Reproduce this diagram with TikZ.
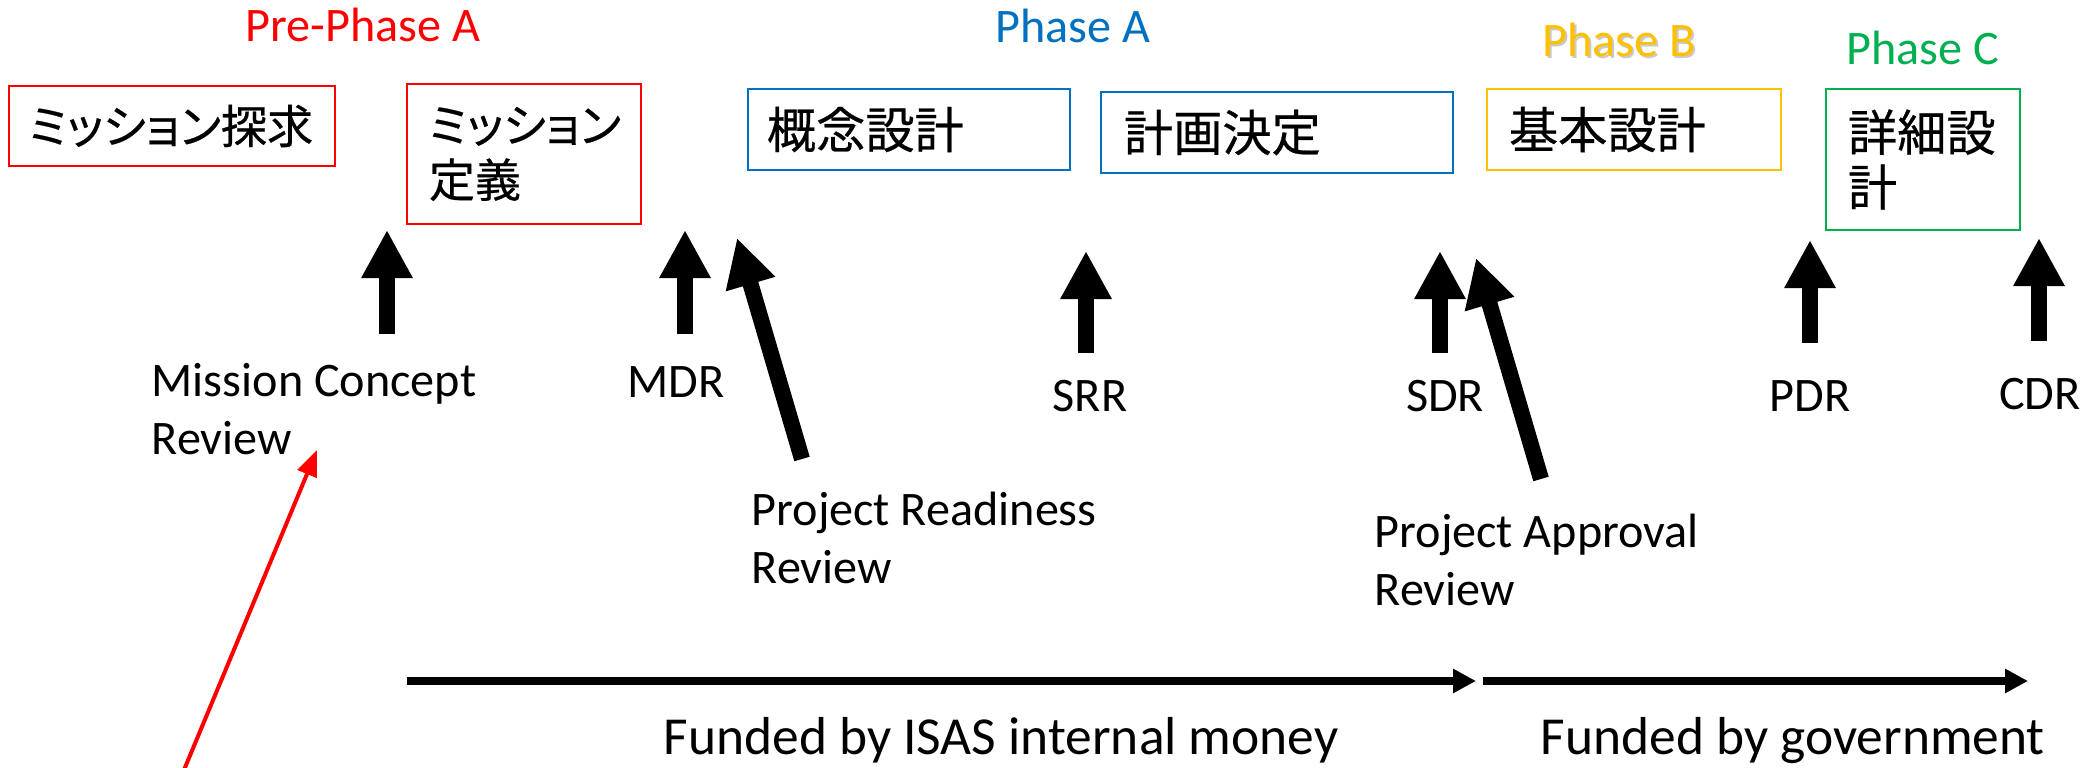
\documentclass[tikz,border=0pt]{standalone}
\usepackage{fontspec}
\setmainfont{Carlito}
\newfontfamily\jp[FakeBold=0.5]{Noto Sans CJK JP}
\newfontfamily\jpp[RawFeature=+palt,FakeBold=0.5]{Noto Sans CJK JP}
\usetikzlibrary{arrows.meta}
\definecolor{pRed}{HTML}{FF0000}
\definecolor{pBlue}{HTML}{0070C0}
\definecolor{pOrange}{HTML}{FFC000}
\definecolor{pGreen}{HTML}{00B050}
\begin{document}
\begin{tikzpicture}[x=0.01cm,y=-0.01cm,
  phase/.style={anchor=base, inner sep=0, font=\fontsize{13.7}{16}\selectfont},
  box/.style={draw, line width=0.6pt, anchor=center, align=left, inner ysep=0,
    font=\jp\fontsize{14}{15.6}\selectfont},
  kana/.style={font=\jpp\fontsize{13.1}{15.6}\selectfont},
  lbl/.style={inner sep=0, align=left, font=\fontsize{13.7}{16.6}\selectfont},
  fundlbl/.style={inner sep=0, anchor=base west, font=\fontsize{15.2}{18}\selectfont},
  blk/.style={line width=0.16cm, -{Triangle[length=0.48cm,width=0.48cm]}},
  fund/.style={line width=0.08cm, -{Triangle[length=0.23cm,width=0.23cm]}},
  redarr/.style={pRed, line width=0.04cm, -{Triangle[length=0.26cm,width=0.2cm]}}]
\useasboundingbox (0,0) rectangle (2085,768);

% phase titles
\node[phase, text=pRed] (ph0) at (363,42) {Pre-Phase A};
\node[phase, text=pBlue] (ph1) at (1073,43) {Phase A};
\node[phase, text=black!35, opacity=0.6] (ph2s) at (1621,59) {Phase B};
\node[phase, text=pOrange] (ph2) at (1619,57) {Phase B};
\node[phase, text=pGreen] (ph3) at (1923,65) {Phase C};

% boxes
\node[box, kana, draw=pRed, minimum width=3.26cm, minimum height=0.8cm, text width=2.86cm, inner xsep=0.2cm] (b1) at (172,126) {ミッション探求};
\node[box, kana, draw=pRed, minimum width=2.34cm, minimum height=1.4cm, text width=1.90cm, inner xsep=0.22cm] (b2) at (524,154) {ミッション\\定義};
\node[box, draw=pBlue, minimum width=3.22cm, minimum height=0.81cm, text width=2.84cm, inner xsep=0.19cm] (b3) at (909,129.5) {概念設計};
\node[box, draw=pBlue, minimum width=3.52cm, minimum height=0.81cm, text width=3.06cm, inner xsep=0.23cm] (b4) at (1277,132.5) {計画決定};
\node[box, draw=pOrange, minimum width=2.94cm, minimum height=0.81cm, text width=2.50cm, inner xsep=0.22cm] (b5) at (1634,129.5) {基本設計};
\node[box, draw=pGreen, minimum width=1.94cm, minimum height=1.41cm, text width=1.50cm, inner xsep=0.22cm] (b6) at (1923,159.5) {詳細設\\計};

% review labels (base anchor = last line)
\node[lbl, anchor=base west] (mcr) at (151,455) {Mission Concept\\Review};
\node[lbl, anchor=base] (mdr) at (676,398) {MDR};
\node[lbl, anchor=base west] (prr) at (751,583.5) {Project Readiness\\Review};
\node[lbl, anchor=base] (srr) at (1090,412) {SRR};
\node[lbl, anchor=base] (sdr) at (1445,412) {SDR};
\node[lbl, anchor=base west] (par) at (1374,606) {Project Approval\\Review};
\node[lbl, anchor=base] (pdr) at (1810,412) {PDR};
\node[lbl, anchor=base] (cdr) at (2040,410) {CDR};

\node[fundlbl] (fisas) at (663,755) {Funded by ISAS internal money};
\node[fundlbl] (fgov) at (1540,755) {Funded by government};

% arrow end points
\coordinate (a1s) at (387,334); \coordinate (a1e) at (387,230);
\coordinate (a2s) at (685,334); \coordinate (a2e) at (685,230);
\coordinate (a3s) at (802,459); \coordinate (a3e) at (737,238);
\coordinate (a4s) at (1086,353); \coordinate (a4e) at (1086,251);
\coordinate (a5s) at (1440,353); \coordinate (a5e) at (1440,251);
\coordinate (a6s) at (1541,479); \coordinate (a6e) at (1476,258);
\coordinate (a7s) at (1810,343); \coordinate (a7e) at (1810,240);
\coordinate (a8s) at (2039,341); \coordinate (a8e) at (2039,238);
\coordinate (f1s) at (407,681); \coordinate (f1e) at (1476,681);
\coordinate (f2s) at (1483,681); \coordinate (f2e) at (2028,681);
\coordinate (rs) at (184,770); \coordinate (re) at (317,450);

\draw[blk] (a1s) -- (a1e);
\draw[blk] (a2s) -- (a2e);
\draw[blk] (a3s) -- (a3e);
\draw[blk] (a4s) -- (a4e);
\draw[blk] (a5s) -- (a5e);
\draw[blk] (a6s) -- (a6e);
\draw[blk] (a7s) -- (a7e);
\draw[blk] (a8s) -- (a8e);
\draw[fund] (f1s) -- (f1e);
\draw[fund] (f2s) -- (f2e);
\draw[redarr] (rs) -- (re);
\end{tikzpicture}
\end{document}
